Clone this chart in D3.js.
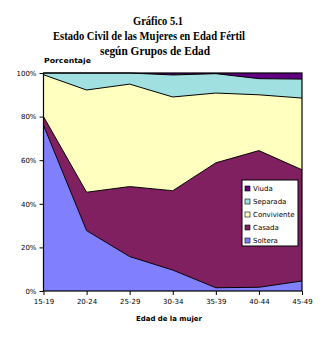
<!DOCTYPE html>
<html>
<head>
<meta charset="utf-8">
<script src="https://cdn.jsdelivr.net/npm/d3@7"></script>
<style>
  html, body { margin: 0; padding: 0; background: #fff; }
  svg { display: block; }
  .title { font-family: "Liberation Serif", "Times New Roman", serif; font-weight: bold; font-size: 12px; }
  .small { font-family: "DejaVu Sans", sans-serif; font-size: 7px; }
</style>
</head>
<body>
<svg id="chart" width="322" height="339"></svg>
<script>
// Age groups and civil status shares (%)
const groups      = ["15-19", "20-24", "25-29", "30-34", "35-39", "40-44", "45-49"];
const soltera     = [76.0, 27.7, 15.8,  9.6,  1.5,  1.7,  4.6];
const casada      = [ 4.0, 17.6, 32.1, 36.4, 57.3, 62.7, 51.0];
const conviviente = [19.2, 46.9, 47.0, 43.0, 32.0, 25.6, 32.9];
const separada    = [ 0.8,  7.8,  5.1, 10.1,  8.9,  7.4,  8.7];
const viuda       = [ 0.0,  0.0,  0.0,  0.9,  0.3,  2.6,  2.8];
const yTicks      = [0, 20, 40, 60, 80, 100];

const seriesKeys   = ["Soltera", "Casada", "Conviviente", "Separada", "Viuda"];
const seriesValues = [soltera, casada, conviviente, separada, viuda];
const colors = {
  Soltera: "#8080ff",
  Casada: "#802060",
  Conviviente: "#ffffc0",
  Separada: "#a0e0e0",
  Viuda: "#600080"
};

const rows = groups.map((g, i) => {
  const r = { group: g };
  seriesKeys.forEach((k, j) => r[k] = seriesValues[j][i]);
  return r;
});

const svg = d3.select("#chart");
const plotLeft = 43.5, plotRight = 302, plotTop = 73, plotBottom = 291;

const x = d3.scalePoint().domain(groups).range([plotLeft, plotRight]);
const y = d3.scaleLinear().domain([0, 100]).range([plotBottom, plotTop]);

const stacked = d3.stack().keys(seriesKeys)(rows);

const area = d3.area()
  .x(d => x(d.data.group))
  .y0(d => y(d[0]))
  .y1(d => y(d[1]));

const topLine = d3.line()
  .x(d => x(d.data.group))
  .y(d => y(d[1]));

const plot = svg.append("g");
plot.selectAll("path.area")
  .data(stacked)
  .join("path")
  .attr("class", "area")
  .attr("fill", d => colors[d.key])
  .attr("d", area);

plot.selectAll("path.edge")
  .data(stacked.slice(0, 4))
  .join("path")
  .attr("class", "edge")
  .attr("fill", "none")
  .attr("stroke", "#000")
  .attr("stroke-width", 1)
  .attr("d", topLine);

// Frame around the plot
svg.append("rect")
  .attr("x", plotLeft).attr("y", plotTop)
  .attr("width", plotRight - plotLeft).attr("height", plotBottom - plotTop)
  .attr("fill", "none").attr("stroke", "#000").attr("stroke-width", 1.2);

// Y axis
const yAxis = d3.axisLeft(y).tickValues(yTicks).tickSize(4).tickPadding(3)
  .tickFormat(d => d + "%");
const gy = svg.append("g").attr("transform", `translate(${plotLeft},0)`).call(yAxis);
gy.select(".domain").remove();
gy.selectAll("text").attr("class", "small").attr("font-size", null).attr("font-family", null).attr("fill", "#000");

// X axis
const xAxis = d3.axisBottom(x).tickSize(4).tickPadding(4);
const gx = svg.append("g").attr("transform", `translate(0,${plotBottom})`).call(xAxis);
gx.select(".domain").remove();
gx.selectAll("text").attr("class", "small").attr("font-size", null).attr("font-family", null).attr("fill", "#000");

// Titles
svg.append("text").attr("class", "title").attr("x", 158).attr("y", 25)
  .attr("text-anchor", "middle").attr("textLength", 50).attr("lengthAdjust", "spacingAndGlyphs")
  .text("Gráfico 5.1");
svg.append("text").attr("class", "title").attr("x", 149).attr("y", 40)
  .attr("text-anchor", "middle").attr("textLength", 192).attr("lengthAdjust", "spacingAndGlyphs")
  .text("Estado Civil de las Mujeres en Edad Fértil");
svg.append("text").attr("class", "title").attr("x", 155).attr("y", 55)
  .attr("text-anchor", "middle").attr("textLength", 110).attr("lengthAdjust", "spacingAndGlyphs")
  .text("según Grupos de Edad");

svg.append("text").attr("class", "small").attr("x", 44).attr("y", 63)
  .attr("font-weight", "bold").attr("textLength", 47).attr("lengthAdjust", "spacingAndGlyphs")
  .text("Porcentaje");
svg.append("text").attr("class", "small").attr("x", 169).attr("y", 321)
  .attr("text-anchor", "middle").attr("font-weight", "bold")
  .attr("textLength", 66).attr("lengthAdjust", "spacingAndGlyphs")
  .text("Edad de la mujer");

// Legend
const lg = svg.append("g").attr("transform", "translate(242,180)");
lg.append("rect").attr("width", 56).attr("height", 66)
  .attr("fill", "#fff").attr("stroke", "#000").attr("stroke-width", 1);
const legendKeys = seriesKeys.slice().reverse();
const item = lg.selectAll("g.item").data(legendKeys).join("g")
  .attr("class", "item")
  .attr("transform", (d, i) => `translate(3,${6 + i * 13})`);
item.append("rect").attr("width", 5).attr("height", 5)
  .attr("fill", d => colors[d]).attr("stroke", "#000").attr("stroke-width", 0.6);
item.append("text").attr("class", "small").attr("x", 8).attr("y", 5)
  .text(d => d);
</script>
</body>
</html>
